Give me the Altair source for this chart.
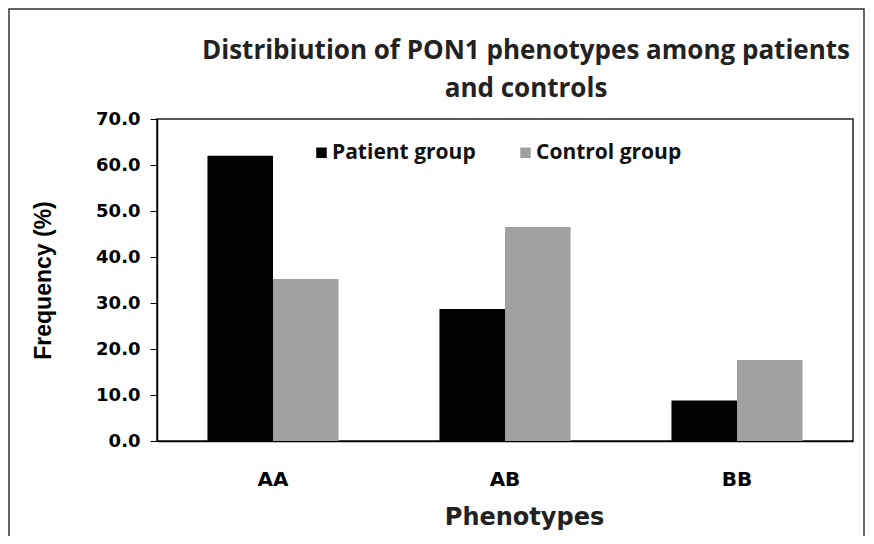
import altair as alt
import pandas as pd

phenotypes = ["AA", "AB", "BB"]
groups = ["Patient group", "Control group"]
patient = [62.0, 28.7, 8.8]
control = [35.2, 46.5, 17.6]
title_lines = ["Distribiution of PON1 phenotypes  among patients", "and controls"]

rows = []
for i, p in enumerate(phenotypes):
    rows.append({"Phenotype": p, "Group": groups[0], "Value": patient[i]})
    rows.append({"Phenotype": p, "Group": groups[1], "Value": control[i]})
df = pd.DataFrame(rows)

bars = alt.Chart(df).mark_bar(stroke=None).encode(
    x=alt.X("Phenotype:N", sort=phenotypes,
            scale=alt.Scale(paddingInner=0.435, paddingOuter=0.2175),
            axis=alt.Axis(title="Phenotypes", labelAngle=0, ticks=False,
                          labelFont="DejaVu Sans", labelFontSize=20, labelFontWeight="bold",
                          labelColor="black", labelPadding=28,
                          titleFont="DejaVu Sans", titleFontSize=24, titleFontWeight="bold",
                          titleColor="#222", titlePadding=16, titleX=367,
                          domainColor="black", domainWidth=1.5)),
    xOffset=alt.XOffset("Group:N", sort=groups),
    y=alt.Y("Value:Q", scale=alt.Scale(domain=[0, 70], nice=False),
            axis=alt.Axis(title="Frequency (%)", values=[0, 10, 20, 30, 40, 50, 60, 70],
                          format=".1f", grid=False, tickSize=7, tickColor="black",
                          labelFont="DejaVu Sans", labelFontSize=18, labelFontWeight="bold",
                          labelColor="black", labelPadding=10,
                          titleFont="Liberation Sans", titleFontSize=23, titleFontWeight="bold",
                          titleColor="black", titlePadding=40,
                          domainColor="black", domainWidth=1.5)),
    color=alt.Color("Group:N", sort=groups,
                    scale=alt.Scale(domain=groups, range=["#000000", "#a0a0a0"]),
                    legend=alt.Legend(title=None, orient="none", legendX=154, legendY=23,
                                      direction="horizontal", symbolType="square",
                                      symbolSize=110, symbolStrokeWidth=0,
                                      labelFont="Open Sans", labelFontSize=21,
                                      labelFontWeight="bold", labelColor="#111",
                                      columnPadding=39, labelOffset=0)),
)

title = alt.Chart(pd.DataFrame({"t": ["\n".join(title_lines)]})).mark_text(
    font="Open Sans", fontSize=26, fontWeight="bold", color="#222",
    align="center", baseline="alphabetic", lineBreak="\n", lineHeight=38
).encode(text="t:N", x=alt.value(369), y=alt.value(-60))

border = alt.Chart(pd.DataFrame({"a": [0]})).mark_rect(
    fill=None, stroke="#333", strokeWidth=1.5
).encode(x=alt.value(-148), x2=alt.value(707), y=alt.value(-110), y2=alt.value(418))

chart = alt.layer(bars, title, border).properties(
    width=696, height=322,
    autosize=alt.AutoSizeParams(type="none"),
    padding={"left": 149, "top": 111, "right": 13, "bottom": 95},
).configure_view(stroke="#222", strokeWidth=1.5)

chart.save("out.html", embed_options={"renderer": "svg", "actions": False})
